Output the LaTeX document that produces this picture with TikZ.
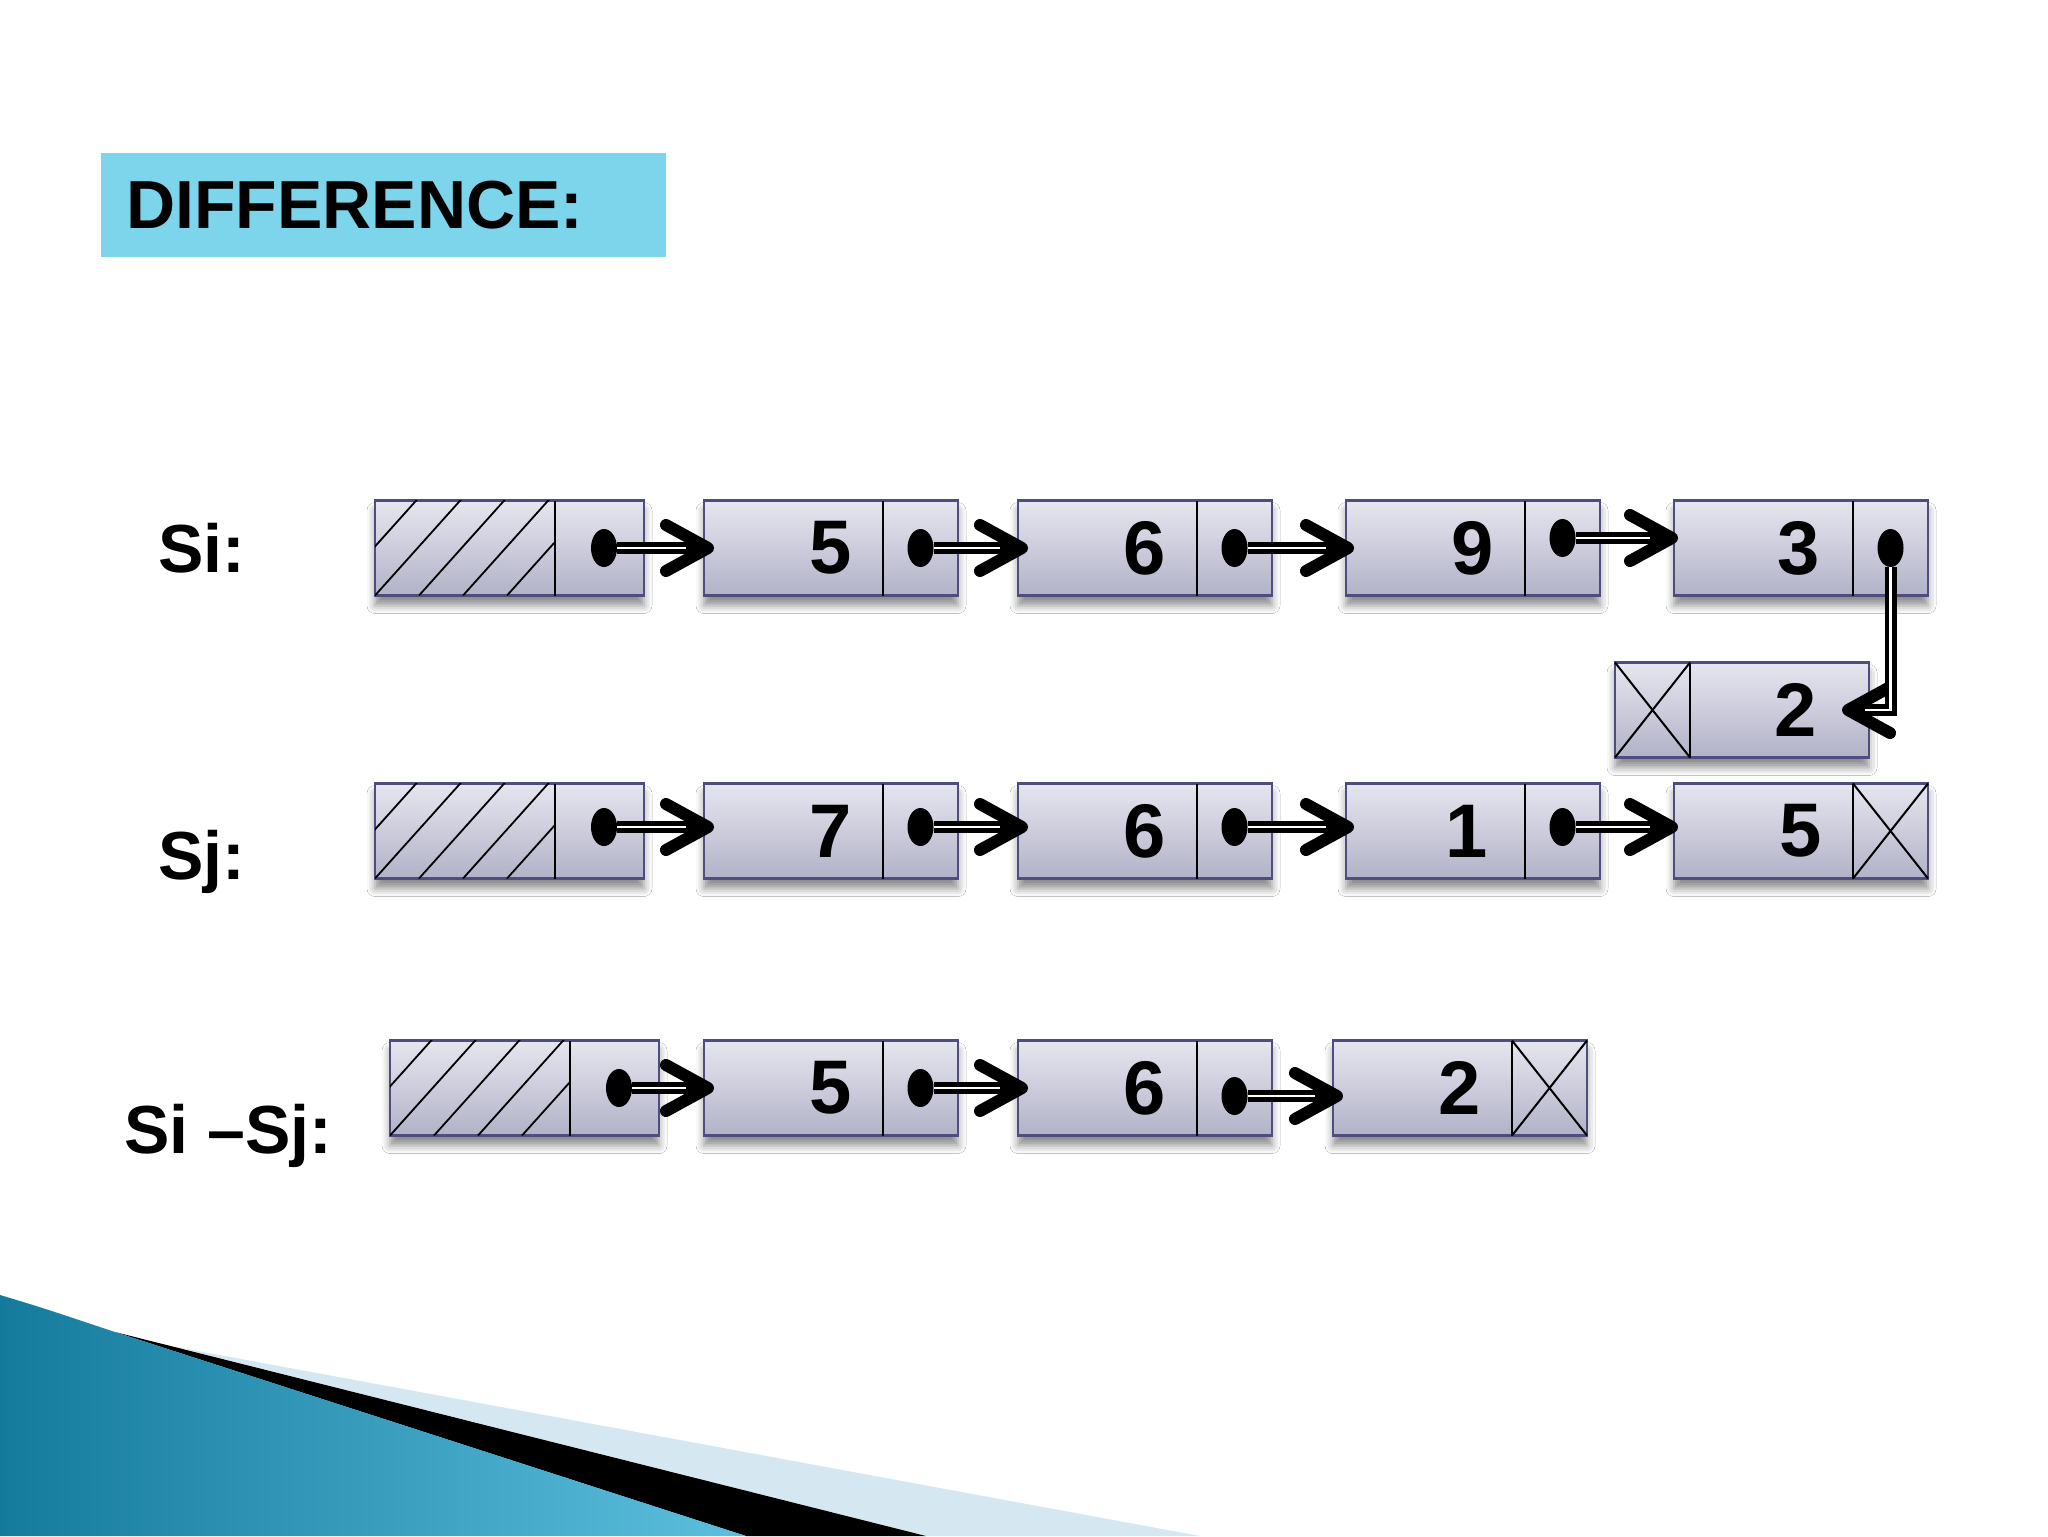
\documentclass[tikz,border=0pt]{standalone}
\usepackage{fontspec}
\setmainfont{Liberation Sans}
\usetikzlibrary{positioning, shapes.geometric, arrows.meta, shadows.blur}

\definecolor{cellTop}{HTML}{E6E6F0}
\definecolor{cellBottom}{HTML}{B2B2C8}
\definecolor{cellEdge}{HTML}{4E4E7E}
\definecolor{titleFill}{HTML}{7CD5EA}
\definecolor{waveDark}{HTML}{157B9D}
\definecolor{waveLight}{HTML}{5CBFDE}
\definecolor{wavePale}{HTML}{D5E8F1}

\begin{document}
\begin{tikzpicture}[
x=0.5pt, y=-0.5pt,
cell/.style={rectangle,
  draw=cellEdge, line width=1.2pt,
  top color=cellTop, bottom color=cellBottom,
  minimum width=127pt, minimum height=47.5pt,
  inner sep=0pt, outer sep=0pt,
  blur shadow={shadow xshift=0pt, shadow yshift=-5pt,
    shadow blur radius=4pt, shadow opacity=45},
  anchor=west
},
headcell/.style={cell, minimum width=134.5pt},
value/.style={font=\fontsize{38}{40}\selectfont\bfseries,
  inner sep=0pt, anchor=east},
rowname/.style={font=\fontsize{34}{40}\selectfont\bfseries,
  inner sep=0pt, anchor=base west},
titlebox/.style={fill=titleFill, anchor=north west,
  minimum width=282.5pt, minimum height=52pt,
  text width=257.5pt, inner xsep=12.5pt, align=left,
  font=\fontsize{34}{40}\selectfont\bfseries},
ptrdot/.style={ellipse, fill=black, minimum width=13pt,
  minimum height=19pt, inner sep=0pt},
divider/.style={black, line width=1pt},
hatchline/.style={black, line width=0.9pt},
link/.style={black, line width=6pt,
  -{Straight Barb[length=21pt, width=23pt, line width=6pt, round]}},
linkcore/.style={white, line width=1.2pt},
]
\useasboundingbox (0,0) rectangle (2048,1536);
\fill[white] (0,0) rectangle (2048,1536);

% corner wave
\fill[wavePale] (176,1347) -- (1200,1536) -- (926,1536) -- cycle;
\fill[black] (115,1332) -- (926,1536) -- (746,1536) -- cycle;
\shade[left color=waveDark, right color=waveLight]
  (0,1295) .. controls (40,1307) .. (115,1332) -- (746,1536) -- (0,1536) -- cycle;

\node[titlebox] (title) at (101,153) {DIFFERENCE:};

\node[rowname] (lsi) at (158,572) {Si:};
\node[rowname] (lsj) at (158,879) {Sj:};
\node[rowname] (ldf) at (124,1153) {Si –Sj:};

% Si
\node[headcell] (si0) at (375,548) {};
\node[cell, right=30pt of si0] (si1) {};
\node[cell, right=30pt of si1] (si2) {};
\node[cell, right=37pt of si2] (si3) {};
\node[cell, right=37pt of si3] (si4) {};
\node[cell] (si5) at (1615,710) {};

% Sj
\node[headcell] (sj0) at (375,831) {};
\node[cell, right=30pt of sj0] (sj1) {};
\node[cell, right=30pt of sj1] (sj2) {};
\node[cell, right=37pt of sj2] (sj3) {};
\node[cell, right=37pt of sj3] (sj4) {};

% Si - Sj
\node[headcell] (df0) at (390,1088) {};
\node[cell, right=22.5pt of df0] (df1) {};
\node[cell, right=30pt of df1] (df2) {};
\node[cell, right=30.5pt of df2] (df3) {};

% dividers
\foreach \c in {si0,sj0,df0}
  \draw[divider] ([xshift=-44.5pt]\c.north east) -- ([xshift=-44.5pt]\c.south east);
\foreach \c in {si1,si2,si3,si4,sj1,sj2,sj3,sj4,df1,df2,df3}
  \draw[divider] ([xshift=-37.5pt]\c.north east) -- ([xshift=-37.5pt]\c.south east);
\draw[divider] ([xshift=37.5pt]si5.north west) -- ([xshift=37.5pt]si5.south west);

% hatched heads
\foreach \c in {si0,sj0,df0}{
  \begin{scope}
    \clip (\c.north west) rectangle ([xshift=-44.5pt]\c.south east);
    \foreach \k in {-1,...,3}
      \draw[hatchline] ([xshift=\k*22pt]\c.south west) -- ++(87,-97);
  \end{scope}
}

% null pointers
\draw[divider] ([xshift=-37.5pt]sj4.north east) -- (sj4.south east);
\draw[divider] ([xshift=-37.5pt]sj4.south east) -- (sj4.north east);
\draw[divider] ([xshift=-37.5pt]df3.north east) -- (df3.south east);
\draw[divider] ([xshift=-37.5pt]df3.south east) -- (df3.north east);
\draw[divider] (si5.north west) -- ([xshift=37.5pt]si5.south west);
\draw[divider] (si5.south west) -- ([xshift=37.5pt]si5.north west);

% values
\node[value] (si1v) at ([xshift=-53pt]si1.east) {5};
\node[value] (si2v) at ([xshift=-53pt]si2.east) {6};
\node[value] (si3v) at ([xshift=-53pt]si3.east) {9};
\node[value] (si4v) at ([xshift=-54pt]si4.east) {3};
\node[value] (si5v) at ([xshift=-26pt]si5.east) {2};
\node[value] (sj1v) at ([xshift=-53pt]sj1.east) {7};
\node[value] (sj2v) at ([xshift=-53pt]sj2.east) {6};
\node[value] (sj3v) at ([xshift=-56pt]sj3.east) {1};
\node[value] (sj4v) at ([xshift=-53pt]sj4.east) {5};
\node[value] (df1v) at ([xshift=-53pt]df1.east) {5};
\node[value] (df2v) at ([xshift=-53pt]df2.east) {6};
\node[value] (df3v) at ([xshift=-53pt]df3.east) {2};

% pointer dots
\node[ptrdot] (si0p) at ([xshift=-20pt]si0.east) {};
\node[ptrdot] (si1p) at ([xshift=-18.75pt]si1.east) {};
\node[ptrdot] (si2p) at ([xshift=-18.75pt]si2.east) {};
\node[ptrdot] (si3p) at ([xshift=-18.75pt, yshift=5pt]si3.east) {};
\node[ptrdot] (si4p) at ([xshift=-18.75pt]si4.east) {};
\node[ptrdot] (sj0p) at ([xshift=-20pt, yshift=2pt]sj0.east) {};
\node[ptrdot] (sj1p) at ([xshift=-18.75pt, yshift=2pt]sj1.east) {};
\node[ptrdot] (sj2p) at ([xshift=-18.75pt, yshift=2pt]sj2.east) {};
\node[ptrdot] (sj3p) at ([xshift=-18.75pt, yshift=2pt]sj3.east) {};
\node[ptrdot] (df0p) at ([xshift=-20pt]df0.east) {};
\node[ptrdot] (df1p) at ([xshift=-18.75pt]df1.east) {};
\node[ptrdot] (df2p) at ([xshift=-18.75pt, yshift=-4pt]df2.east) {};

% links
\draw[link] (si0p.east) -- ([xshift=5pt]si1.west);
\draw[linkcore] (si0p.east) -- ([xshift=-9pt]si1.west);
\draw[link] (si1p.east) -- ([xshift=5pt]si2.west);
\draw[linkcore] (si1p.east) -- ([xshift=-9pt]si2.west);
\draw[link] (si2p.east) -- ([xshift=4pt]si3.west);
\draw[linkcore] (si2p.east) -- ([xshift=-10pt]si3.west);
\draw[link] (si3p.east) -- ([xshift=2pt, yshift=5pt]si4.west);
\draw[linkcore] (si3p.east) -- ([xshift=-12pt, yshift=5pt]si4.west);
\draw[link] (si4p.south) |- ([xshift=-13.5pt]si5.east);
\draw[linkcore] (si4p.south) |- ([xshift=-2pt]si5.east);

\draw[link] (sj0p.east) -- ([xshift=5pt, yshift=2pt]sj1.west);
\draw[linkcore] (sj0p.east) -- ([xshift=-9pt, yshift=2pt]sj1.west);
\draw[link] (sj1p.east) -- ([xshift=5pt, yshift=2pt]sj2.west);
\draw[linkcore] (sj1p.east) -- ([xshift=-9pt, yshift=2pt]sj2.west);
\draw[link] (sj2p.east) -- ([xshift=4pt, yshift=2pt]sj3.west);
\draw[linkcore] (sj2p.east) -- ([xshift=-10pt, yshift=2pt]sj3.west);
\draw[link] (sj3p.east) -- ([xshift=2pt, yshift=2pt]sj4.west);
\draw[linkcore] (sj3p.east) -- ([xshift=-12pt, yshift=2pt]sj4.west);

\draw[link] (df0p.east) -- ([xshift=5pt]df1.west);
\draw[linkcore] (df0p.east) -- ([xshift=-9pt]df1.west);
\draw[link] (df1p.east) -- ([xshift=5pt]df2.west);
\draw[linkcore] (df1p.east) -- ([xshift=-9pt]df2.west);
\draw[link] (df2p.east) -- ([xshift=5pt, yshift=-4pt]df3.west);
\draw[linkcore] (df2p.east) -- ([xshift=-9pt, yshift=-4pt]df3.west);
\end{tikzpicture}
\end{document}
